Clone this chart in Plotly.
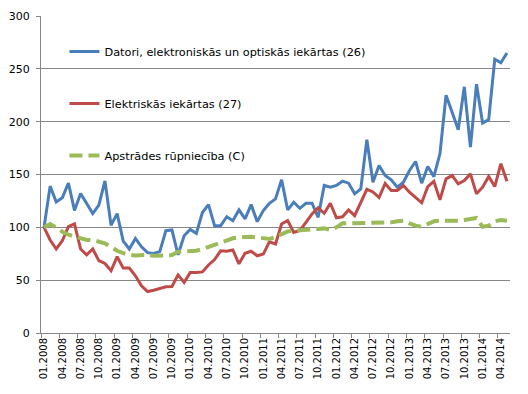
import plotly.graph_objects as go

months = [f"{m:02d}.{y}" for y in range(2008, 2015) for m in range(1, 13)][:77]

datori = [100, 139, 124, 128, 142, 116, 132, 122, 113, 121, 144, 102,
          113, 87, 79.5, 89.5, 81.6, 76, 75.3, 77, 96.8, 97.5, 74, 92,
          98, 94.3, 114, 121.5, 101.6, 101.6, 110, 106.3, 116.5, 108, 121.5, 105.4,
          115.8, 122.8, 126.9, 145, 116.5, 123.7, 118, 122.8, 122.8, 109.5, 139.6, 138,
          139.6, 143.7, 141.8, 131.7, 136.4, 183, 142.7, 158.5, 149, 145, 138, 142.7,
          153.8, 162.3, 141.8, 157.6, 148, 169.6, 225, 209, 192.4, 233, 176, 235.5,
          198.7, 202, 259, 255.7, 265]

elektriskas = [100, 88, 79.5, 87.3, 100.6, 103.2, 79.5, 74, 79.5, 68.4, 65.8, 58.9,
               72.2, 61.4, 61.4, 54.1, 44.6, 39.2, 40.5, 42.1, 43.7, 44, 55, 47.8,
               57.3, 57.3, 57.8, 64.4, 69.5, 77.8, 77.4, 78.6, 65.5, 75.5, 77.4, 73.1,
               74.7, 86.2, 84.2, 103.2, 106.5, 95.2, 97, 104.7, 112.7, 118.4, 113.3, 122.8,
               109, 110, 116.5, 111, 123.5, 136, 133.5, 128.2, 141.5, 134.8, 134.8, 139.6,
               133.2, 128.2, 123.2, 138.5, 143.5, 126, 145.9, 149, 141.2, 144.3, 150.6, 131.7,
               138, 148.1, 138.6, 160.2, 143.7]

apstrade = [100, 103.2, 100, 95.9, 93, 91.1, 89, 88, 88, 86.7, 84.8, 81.6,
            77.8, 75.6, 74, 73.4, 74, 74, 73.1, 73.1, 73.1, 73.7, 76.9, 77.2,
            77.2, 77.8, 79.5, 81.6, 83.2, 85.7, 88, 89.6, 90.5, 91.1, 91, 90.5,
            89.9, 89, 90.8, 93.5, 96.2, 96.8, 97.5, 97.8, 98.1, 98.4, 99, 97.5,
            100, 103.8, 103.8, 103.8, 103.8, 103.8, 104.7, 103.8, 104.7, 104.7, 105.7, 106.3,
            103.8, 101.6, 100.6, 103.2, 105.7, 106.3, 106.3, 105.7, 106.3, 107, 107.6, 108.9,
            100.6, 101.6, 105.7, 107, 106.3]

names = ["Datori, elektroniskās un optiskās iekārtas (26)",
         "Elektriskās iekārtas (27)",
         "Apstrādes rūpniecība (C)"]

y_ticks = [0, 50, 100, 150, 200, 250, 300]

fig = go.Figure()
fig.add_trace(go.Scatter(x=months, y=datori, mode="lines", name=names[0], legendgroup="a",
                         line=dict(color="#4a7ebb", width=3)))
fig.add_trace(go.Scatter(x=months, y=elektriskas, mode="lines", name=names[1], legendgroup="b",
                         line=dict(color="#be4b48", width=3)))
fig.add_trace(go.Scatter(x=months, y=apstrade, mode="lines", name=names[2], legendgroup="c",
                         line=dict(color="#9bbb59", width=4, dash="13px,6px")))

grid = "#868686"
fig.update_layout(
    width=520, height=386,
    margin=dict(l=33, r=18, t=8, b=61, autoexpand=False),
    paper_bgcolor="white", plot_bgcolor="white",
    font=dict(family="DejaVu Sans", size=11, color="#000000"),
    showlegend=True,
    legend=dict(x=0.05, y=0.934, xanchor="left", yanchor="top",
                bgcolor="rgba(0,0,0,0)", borderwidth=0,
                tracegroupgap=33, font=dict(size=11.3)),
    xaxis=dict(type="category", range=[-0.5, 76.5], tickmode="linear", tick0=0, dtick=3,
               tickson="boundaries", ticks="outside", ticklen=4, tickcolor=grid,
               showline=True, linecolor=grid, linewidth=1, showgrid=False, automargin=False,
               tickangle=-90, tickfont=dict(size=10)),
    yaxis=dict(range=[0, 300], tickvals=y_ticks, ticks="outside", ticklen=4, tickcolor=grid,
               showline=True, linecolor=grid, linewidth=1, showgrid=True, gridcolor=grid,
               gridwidth=1, zeroline=False, automargin=False, tickfont=dict(size=11),
               ticklabelstandoff=4),
)

fig.write_html("out.html")
